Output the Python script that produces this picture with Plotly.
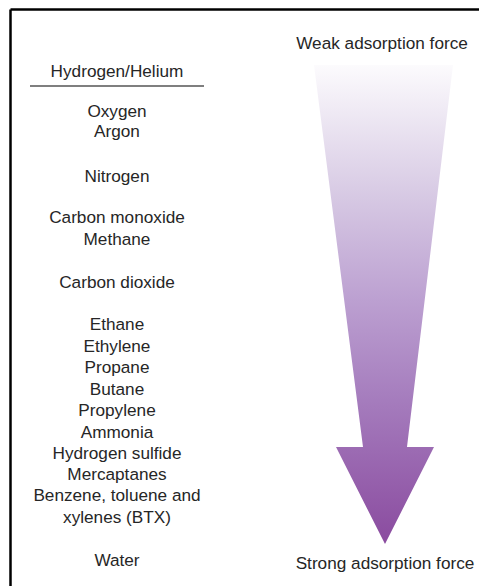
import plotly.graph_objects as go

W, H = 479, 586

# Gases ordered from weak to strong adsorption, with their vertical positions
gases = ["Hydrogen/Helium", "Oxygen", "Argon", "Nitrogen", "Carbon monoxide", "Methane",
         "Carbon dioxide", "Ethane", "Ethylene", "Propane", "Butane", "Propylene",
         "Ammonia", "Hydrogen sulfide", "Mercaptanes", "Benzene, toluene and",
         "xylenes (BTX)", "Water"]
gas_y = [72.5, 112.5, 132.5, 177.5, 218.5, 240.5, 283.5, 325.5, 347.5, 368.5, 390.5, 411.5,
         433.5, 454.5, 475.5, 496.5, 518.5, 561.5]
gas_x = 117

end_labels = ["Weak adsorption force", "Strong adsorption force"]
end_x = [382, 385]
end_y = [44.5, 564.5]

# Arrow outline (tapered shaft + head)
arrow_x = [314, 453, 407, 434, 385, 336, 363, 314]
arrow_y = [65, 65, 447, 447, 544, 447, 447, 65]
arrow_colors = [[0.0, "#fcfbfd"], [0.28, "#d6c8e3"], [0.49, "#bca0d1"],
                [0.70, "#a57cbd"], [1.0, "#8a4b9f"]]

FONT = "Liberation Sans, Arial, Helvetica, sans-serif"
FSIZE = 17.2

fig = go.Figure()
fig.add_trace(go.Scatter(
    x=arrow_x, y=arrow_y, mode="lines", fill="toself",
    line=dict(width=0, color="rgba(0,0,0,0)"),
    fillgradient=dict(type="vertical", colorscale=arrow_colors, start=65, stop=544),
    hoverinfo="skip", showlegend=False))

fig.add_trace(go.Scatter(
    x=[gas_x] * len(gases), y=gas_y, text=gases, mode="text",
    textposition="middle center",
    textfont=dict(family=FONT, size=FSIZE, color="#262626"),
    hoverinfo="skip", showlegend=False))

fig.add_trace(go.Scatter(
    x=end_x, y=end_y, text=end_labels, mode="text",
    textposition="middle center",
    textfont=dict(family=FONT, size=FSIZE, color="#262626"),
    hoverinfo="skip", showlegend=False))

# separator under Hydrogen/Helium
fig.add_shape(type="line", x0=30, x1=204, y0=86, y1=86,
              line=dict(color="#555555", width=1.5))
# frame (top and left edges)
fig.add_shape(type="line", x0=10.5, x1=W + 5, y0=9.5, y1=9.5, line=dict(color="black", width=2.5))
fig.add_shape(type="line", x0=10.5, x1=10.5, y0=9.5, y1=H + 5, line=dict(color="black", width=2.5))

fig.update_layout(
    width=W, height=H, margin=dict(l=0, r=0, t=0, b=0),
    paper_bgcolor="white", plot_bgcolor="white",
    xaxis=dict(range=[0, W], visible=False, fixedrange=True),
    yaxis=dict(range=[H, 0], visible=False, fixedrange=True),
    showlegend=False)

fig.write_html(
    "out.html",
    config={"displayModeBar": False, "staticPlot": True},
    post_script="document.body.style.margin='0';document.body.style.overflow='hidden';",
)
